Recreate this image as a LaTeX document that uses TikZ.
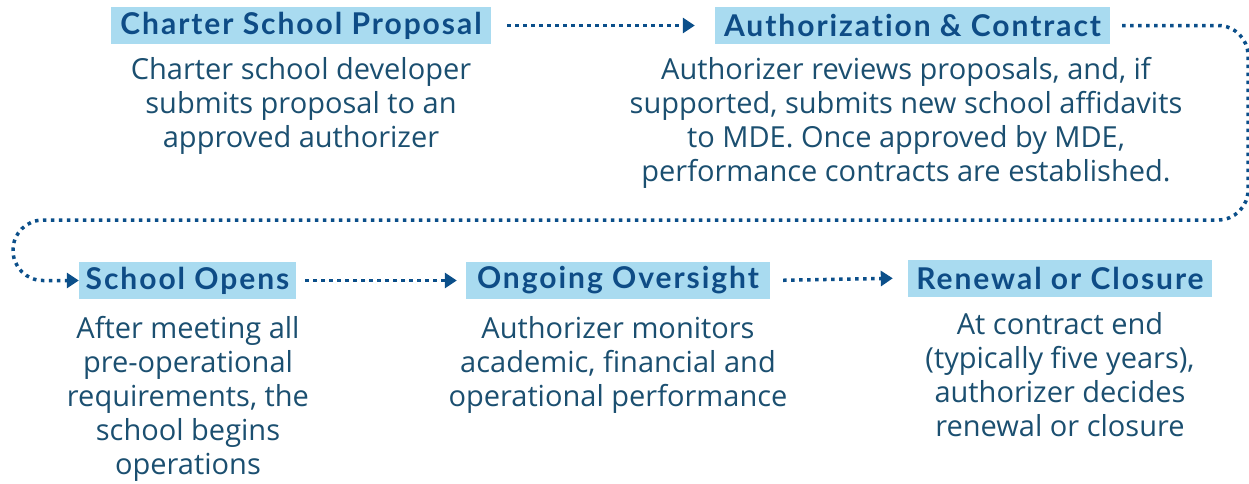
\documentclass[tikz,border=0pt]{standalone}
\usepackage{fontspec}
\setmainfont{Open Sans}
\newfontfamily\headfont{Lato}[LetterSpace=6.5,Ligatures=NoCommon]
\usetikzlibrary{arrows.meta}
\definecolor{boxfill}{HTML}{A9DBF0}
\definecolor{headtxt}{HTML}{0E4C86}
\definecolor{bodytxt}{HTML}{1B4F70}
\definecolor{linecol}{HTML}{0B4F8A}
\tikzset{
  head/.style={fill=boxfill, text=headtxt, font=\headfont\bfseries\fontsize{30}{32}\selectfont, minimum height=37pt, inner sep=0pt, anchor=center},
  body/.style={text=bodytxt, font=\fontsize{29}{34}\selectfont, align=center, anchor=north, inner sep=0pt},
  conn/.style={draw=linecol, line width=3.5pt, dash pattern=on 3.5pt off 4.5pt, -{Triangle[length=12pt,width=15pt]}},
}
\begin{document}
\begin{tikzpicture}[x=1pt,y=-1pt]
\useasboundingbox (0,0) rectangle (1249,483);
% headings
\node[head, minimum width=380pt] (h1) at (301,25.5) {Charter School Proposal};
\node[head, minimum width=395pt] (h2) at (912.5,25.5) {Authorization \& Contract};
\node[head, minimum width=217pt] (h3) at (187.5,280.5) {School Opens};
\node[head, minimum width=304pt] (h4) at (618,280.5) {Ongoing Oversight};
\node[head, minimum width=304pt] (h5) at (1060,278) {Renewal or Closure};
% bodies
\node[body] (b1) at (301,57) {Charter school developer\\submits proposal to an\\approved authorizer};
\node[body] (b2) at (906,57) {Authorizer reviews proposals, and, if\\supported, submits new school affidavits\\to MDE. Once approved by MDE,\\performance contracts are established.};
\node[body] (b3) at (188,316) {After meeting all\\pre-operational\\requirements, the\\school begins\\operations};
\node[body] (b4) at (618,316) {Authorizer monitors\\academic, financial and\\operational performance};
\node[body] (b5) at (1060,312) {At contract end\\(typically five years),\\authorizer decides\\renewal or closure};
% connectors
\coordinate (c1) at (1248,25.5);
\coordinate (c2) at (1248,220);
\coordinate (c3) at (13,220);
\coordinate (c4) at (13,280.5);
\draw[conn, shorten <=16pt, shorten >=20pt] (h1.east) -- (h2.west);
\draw[conn, shorten <=12pt, rounded corners=30pt] (h2.east) -- (c1) -- (c2) -- (c3) -- (c4) -- (h3.west);
\draw[conn, shorten <=9pt, shorten >=9pt] (h3.east) -- (h4.west);
\draw[conn, shorten <=13pt, shorten >=15pt] (h4.east) -- (h5.west);
\end{tikzpicture}
\end{document}
